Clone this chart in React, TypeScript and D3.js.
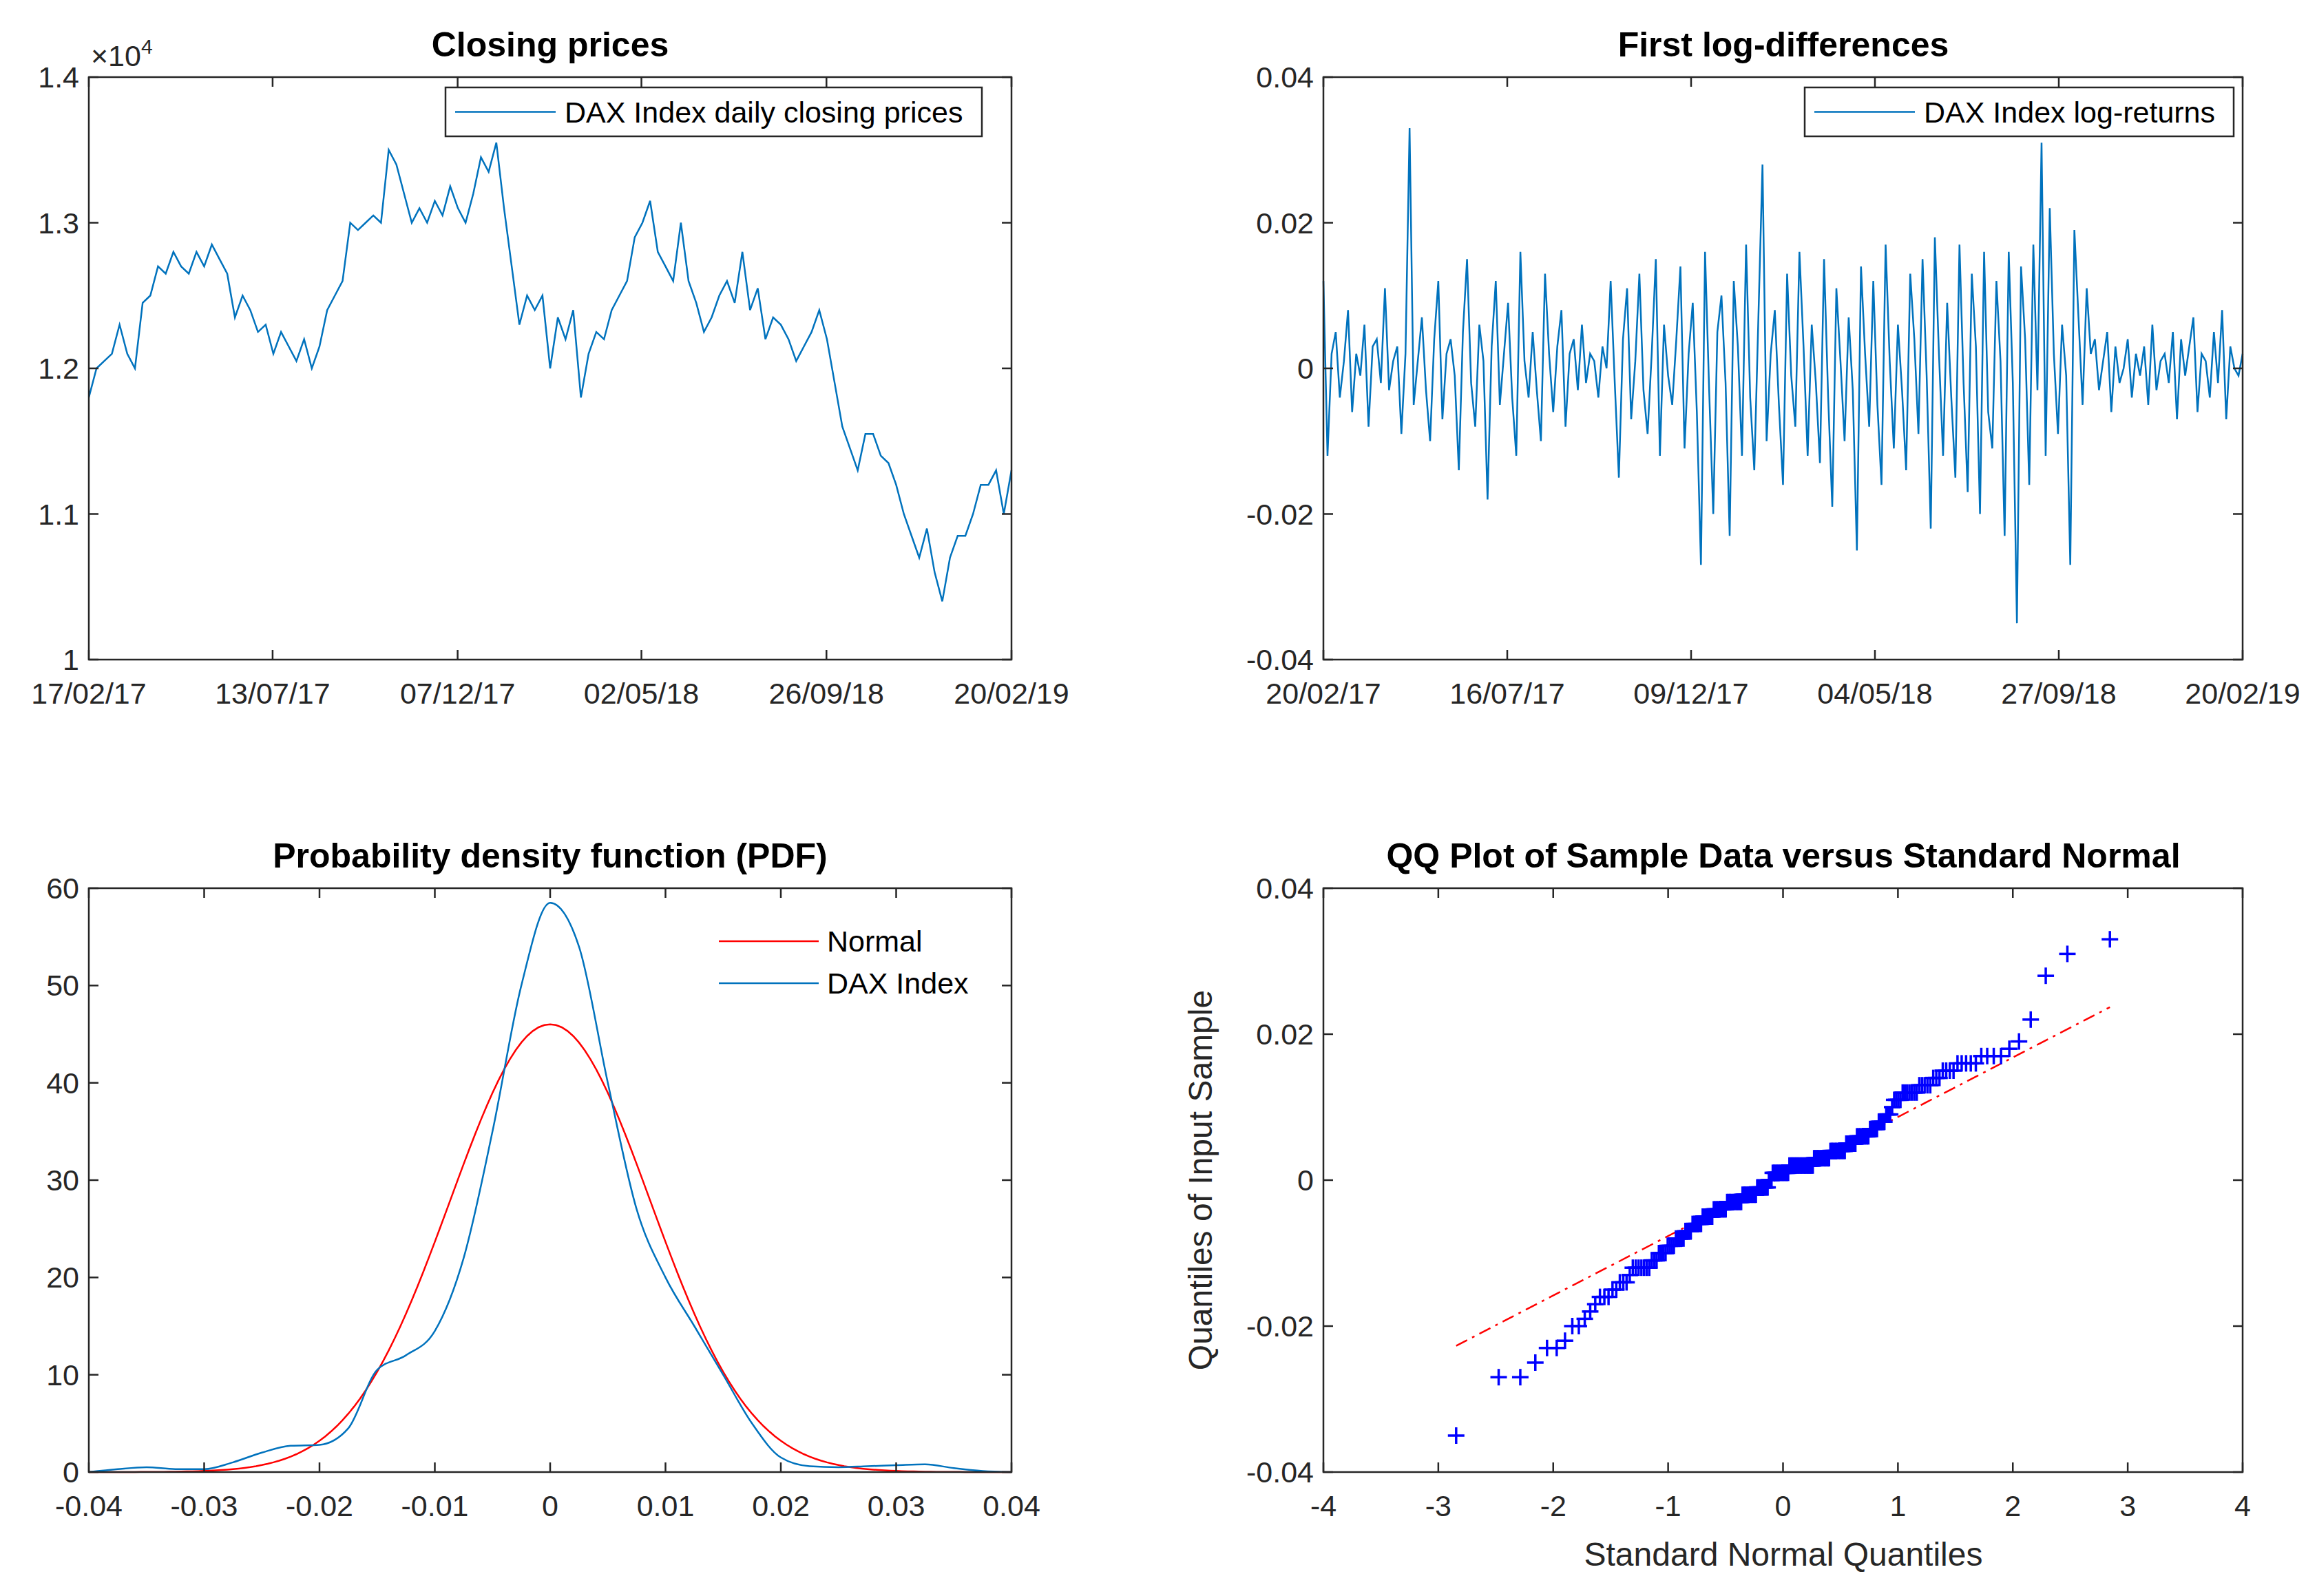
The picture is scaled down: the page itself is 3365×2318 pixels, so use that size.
import React, { useEffect, useRef } from 'react';
import * as d3 from 'd3';

// DAX closing prices (x10^4), evenly spaced samples 17/02/17 .. 20/02/19
const prices = [1.18, 1.20, 1.205, 1.21, 1.23, 1.21, 1.20, 1.245, 1.25, 1.27, 1.265, 1.28, 1.27, 1.265, 1.28, 1.27, 1.285, 1.275, 1.265, 1.235,
  1.25, 1.24, 1.225, 1.23, 1.21, 1.225, 1.215, 1.205, 1.22, 1.20, 1.215, 1.24, 1.25, 1.26, 1.30, 1.295, 1.30, 1.305, 1.30, 1.35,
  1.34, 1.32, 1.30, 1.31, 1.30, 1.315, 1.305, 1.325, 1.31, 1.30, 1.32, 1.345, 1.335, 1.355, 1.31, 1.27, 1.23, 1.25, 1.24, 1.25,
  1.20, 1.235, 1.22, 1.24, 1.18, 1.21, 1.225, 1.22, 1.24, 1.25, 1.26, 1.29, 1.30, 1.315, 1.28, 1.27, 1.26, 1.30, 1.26, 1.245,
  1.225, 1.235, 1.25, 1.26, 1.245, 1.28, 1.24, 1.255, 1.22, 1.235, 1.23, 1.22, 1.205, 1.215, 1.225, 1.24, 1.22, 1.19, 1.16, 1.145,
  1.13, 1.155, 1.155, 1.14, 1.135, 1.12, 1.10, 1.085, 1.07, 1.09, 1.06, 1.04, 1.07, 1.085, 1.085, 1.10, 1.12, 1.12, 1.13, 1.10, 1.13];
const priceStart = new Date(2017, 1, 17);
const priceEnd = new Date(2019, 1, 20);
const priceTicks = ['17/02/17', '13/07/17', '07/12/17', '02/05/18', '26/09/18', '20/02/19'];

// log-returns, evenly spaced 20/02/17 .. 20/02/19
const returns = [0.012, -0.012, 0.002, 0.005, -0.004, 0.001, 0.008, -0.006, 0.002, -0.001, 0.006, -0.008, 0.003, 0.004, -0.002, 0.011,
  -0.003, 0.001, 0.003, -0.009, 0.002, 0.033, -0.005, 0.001, 0.007, -0.003, -0.01, 0.004, 0.012, -0.007, 0.002, 0.004, -0.001, -0.014,
  0.005, 0.015, -0.002, -0.008, 0.006, 0.001, -0.018, 0.003, 0.012, -0.005, 0.002, 0.009, -0.004, -0.012, 0.016, 0.001, -0.004, 0.005,
  -0.003, -0.01, 0.013, 0.002, -0.006, 0.003, 0.008, -0.008, 0.002, 0.004, -0.003, 0.006, -0.002, 0.002, 0.001, -0.004, 0.003, 0.0,
  0.012, -0.002, -0.015, 0.004, 0.011, -0.007, 0.001, 0.013, -0.003, -0.009, 0.002, 0.015, -0.012, 0.006, -0.001, -0.005, 0.004,
  0.014, -0.011, 0.002, 0.009, -0.006, -0.027, 0.016, -0.003, -0.02, 0.005, 0.01, -0.002, -0.023, 0.012, 0.003, -0.012, 0.017, -0.004,
  -0.014, 0.007, 0.028, -0.01, 0.002, 0.008, -0.005, -0.016, 0.013, -0.001, -0.008, 0.016, 0.003, -0.012, 0.006, -0.002, -0.013,
  0.015, -0.004, -0.019, 0.011, 0.001, -0.01, 0.007, -0.003, -0.025, 0.014, 0.002, -0.008, 0.012, -0.005, -0.016, 0.017, 0.001,
  -0.011, 0.006, -0.003, -0.014, 0.013, 0.004, -0.009, 0.015, -0.001, -0.022, 0.018, 0.002, -0.012, 0.009, -0.004, -0.015, 0.017,
  -0.002, -0.017, 0.013, 0.003, -0.02, 0.016, -0.006, -0.011, 0.012, 0.001, -0.023, 0.016, -0.002, -0.035, 0.014, 0.004, -0.016,
  0.017, -0.003, 0.031, -0.012, 0.022, 0.002, -0.009, 0.006, -0.001, -0.027, 0.019, 0.007, -0.005, 0.011, 0.002, 0.004, -0.003,
  0.001, 0.005, -0.006, 0.003, -0.002, 0.0, 0.004, -0.004, 0.002, -0.001, 0.003, -0.005, 0.006, -0.003, 0.001, 0.002, -0.002, 0.005,
  -0.007, 0.004, -0.001, 0.003, 0.007, -0.006, 0.002, 0.001, -0.004, 0.005, -0.002, 0.008, -0.007, 0.003, 0.0, -0.001, 0.002];
const retStart = new Date(2017, 1, 20);
const retEnd = new Date(2019, 1, 20);
const retTicks = ['20/02/17', '16/07/17', '09/12/17', '04/05/18', '27/09/18', '20/02/19'];

// kernel density of DAX returns
const kdeX = d3.range(33).map(i => -0.04 + i * 0.0025);
const kdeY = [0, 0.3, 0.5, 0.3, 0.3, 1, 2, 2.7, 2.8, 4.5, 10.5, 12, 14.5, 22, 35, 50, 58.5, 54, 40, 27, 20, 15, 10, 5, 1.5, 0.6, 0.5,
  0.6, 0.7, 0.8, 0.4, 0.1, 0];
const normalMean = 0;
const normalSd = 0.00867;

const FONT = '"Liberation Sans", Arial, sans-serif';
const BLUE = '#0072BD';

const parse = d3.timeParse('%d/%m/%y');

function invNorm(p: number): number {
  const a = [-39.6968302866538, 220.946098424521, -275.928510446969, 138.357751867269, -30.6647980661472, 2.50662827745924];
  const b = [-54.4760987982241, 161.585836858041, -155.698979859887, 66.8013118877197, -13.2806815528857];
  const c = [-0.00778489400243029, -0.322396458041136, -2.40075827716184, -2.54973253934373, 4.37466414146497, 2.93816398269878];
  const d = [0.00778469570904146, 0.32246712907004, 2.445134137143, 3.75440866190742];
  const pl = 0.02425;
  if (p < pl) {
    const q = Math.sqrt(-2 * Math.log(p));
    return (((((c[0] * q + c[1]) * q + c[2]) * q + c[3]) * q + c[4]) * q + c[5]) / ((((d[0] * q + d[1]) * q + d[2]) * q + d[3]) * q + 1);
  }
  if (p > 1 - pl) return -invNorm(1 - p);
  const q = p - 0.5, r = q * q;
  return (((((a[0] * r + a[1]) * r + a[2]) * r + a[3]) * r + a[4]) * r + a[5]) * q / (((((b[0] * r + b[1]) * r + b[2]) * r + b[3]) * r + b[4]) * r + 1);
}

const App: React.FC = () => {
  const ref = useRef<SVGSVGElement>(null);

  useEffect(() => {
    document.body.style.margin = '0';
    const svg = d3.select(ref.current!);
    svg.selectAll('*').remove();
    svg.append('rect').attr('width', 3365).attr('height', 2318).attr('fill', '#fff');

    const frame = (x0: number, x1: number, y0: number, y1: number, xs: any, ys: any, xt: any[], yt: any[], xfmt: (v: any) => string, yfmt: (v: any) => string) => {
      const g = svg.append('g');
      g.append('rect').attr('x', x0).attr('y', y0).attr('width', x1 - x0).attr('height', y1 - y0)
        .attr('fill', 'none').attr('stroke', '#262626').attr('stroke-width', 2.5);
      const tl = 14;
      xt.forEach(t => {
        const x = xs(t);
        g.append('line').attr('x1', x).attr('x2', x).attr('y1', y1).attr('y2', y1 - tl).attr('stroke', '#262626').attr('stroke-width', 2.5);
        g.append('line').attr('x1', x).attr('x2', x).attr('y1', y0).attr('y2', y0 + tl).attr('stroke', '#262626').attr('stroke-width', 2.5);
        g.append('text').attr('x', x).attr('y', y1 + 64).attr('text-anchor', 'middle').attr('font-family', FONT)
          .attr('font-size', 43).attr('fill', '#262626').text(xfmt(t));
      });
      yt.forEach(t => {
        const y = ys(t);
        g.append('line').attr('x1', x0).attr('x2', x0 + tl).attr('y1', y).attr('y2', y).attr('stroke', '#262626').attr('stroke-width', 2.5);
        g.append('line').attr('x1', x1).attr('x2', x1 - tl).attr('y1', y).attr('y2', y).attr('stroke', '#262626').attr('stroke-width', 2.5);
        g.append('text').attr('x', x0 - 14).attr('y', y + 15).attr('text-anchor', 'end').attr('font-family', FONT)
          .attr('font-size', 43).attr('fill', '#262626').text(yfmt(t));
      });
      return g;
    };
    const title = (x: number, y: number, t: string) => svg.append('text').attr('x', x).attr('y', y).attr('text-anchor', 'middle')
      .attr('font-family', FONT).attr('font-weight', 'bold').attr('font-size', 50).attr('fill', '#000').text(t);
    const legendBox = (x0: number, x1: number, y0: number, y1: number, label: string) => {
      svg.append('rect').attr('x', x0).attr('y', y0).attr('width', x1 - x0).attr('height', y1 - y0)
        .attr('fill', '#fff').attr('stroke', '#262626').attr('stroke-width', 2.5);
      const ym = (y0 + y1) / 2;
      svg.append('line').attr('x1', x0 + 14).attr('x2', x0 + 160).attr('y1', ym).attr('y2', ym).attr('stroke', BLUE).attr('stroke-width', 2.5);
      svg.append('text').attr('x', x0 + 173).attr('y', ym + 15).attr('font-family', FONT).attr('font-size', 43).attr('fill', '#000').text(label);
    };
    const fmtNum = (v: number) => (Math.abs(v) < 1e-9 ? '0' : String(+v.toFixed(4)));

    // Panel 1: closing prices
    {
      const [x0, x1, y0, y1] = [129, 1469, 112, 958];
      const xs = d3.scaleTime().domain([priceStart, priceEnd]).range([x0, x1]);
      const ys = d3.scaleLinear().domain([1.0, 1.4]).range([y1, y0]);
      const tx = d3.scaleLinear().domain([0, prices.length - 1]).range([+priceStart, +priceEnd]);
      const line = d3.line<number>().x((_, i) => xs(new Date(tx(i)))).y(v => ys(v));
      svg.append('path').attr('d', line(prices)!).attr('fill', 'none').attr('stroke', BLUE).attr('stroke-width', 2.5);
      frame(x0, x1, y0, y1, xs, ys, priceTicks.map(t => parse(t)!), [1, 1.1, 1.2, 1.3, 1.4], (d: Date) => d3.timeFormat('%d/%m/%y')(d), fmtNum);
      svg.append('text').attr('x', 132).attr('y', 96).attr('font-family', FONT).attr('font-size', 43).attr('fill', '#262626')
        .html('×10<tspan dy="-18" font-size="30">4</tspan>');
      title(799, 82, 'Closing prices');
      legendBox(647, 1426, 127, 198, 'DAX Index daily closing prices');
    }

    // Panel 2: log-returns
    {
      const [x0, x1, y0, y1] = [1922, 3257, 112, 958];
      const xs = d3.scaleTime().domain([retStart, retEnd]).range([x0, x1]);
      const ys = d3.scaleLinear().domain([-0.04, 0.04]).range([y1, y0]);
      const tx = d3.scaleLinear().domain([0, returns.length - 1]).range([+retStart, +retEnd]);
      const line = d3.line<number>().x((_, i) => xs(new Date(tx(i)))).y(v => ys(v));
      svg.append('path').attr('d', line(returns)!).attr('fill', 'none').attr('stroke', BLUE).attr('stroke-width', 2.5);
      frame(x0, x1, y0, y1, xs, ys, retTicks.map(t => parse(t)!), [-0.04, -0.02, 0, 0.02, 0.04], (d: Date) => d3.timeFormat('%d/%m/%y')(d), fmtNum);
      title(2590, 82, 'First log-differences');
      legendBox(2621, 3244, 127, 198, 'DAX Index log-returns');
    }

    // Panel 3: PDF
    {
      const [x0, x1, y0, y1] = [129, 1469, 1290, 2138];
      const xs = d3.scaleLinear().domain([-0.04, 0.04]).range([x0, x1]);
      const ys = d3.scaleLinear().domain([0, 60]).range([y1, y0]);
      const nx = d3.range(-0.04, 0.04001, 0.0005);
      const npdf = (x: number) => Math.exp(-0.5 * ((x - normalMean) / normalSd) ** 2) / (normalSd * Math.sqrt(2 * Math.PI));
      svg.append('path').attr('d', d3.line<number>().x(v => xs(v)).y(v => ys(npdf(v)))(nx)!)
        .attr('fill', 'none').attr('stroke', '#FF0000').attr('stroke-width', 2.5);
      svg.append('path').attr('d', d3.line<number>().x(v => xs(v)).y((_, i) => ys(kdeY[i])).curve(d3.curveMonotoneX)(kdeX)!)
        .attr('fill', 'none').attr('stroke', BLUE).attr('stroke-width', 2.5);
      frame(x0, x1, y0, y1, xs, ys, d3.range(-0.04, 0.04001, 0.01), [0, 10, 20, 30, 40, 50, 60], fmtNum, fmtNum);
      title(799, 1260, 'Probability density function (PDF)');
      [['Normal', '#FF0000', 1367], ['DAX Index', BLUE, 1428]].forEach(([l, c, y]) => {
        svg.append('line').attr('x1', 1044).attr('x2', 1189).attr('y1', y).attr('y2', y).attr('stroke', c as string).attr('stroke-width', 2.5);
        svg.append('text').attr('x', 1201).attr('y', (y as number) + 15).attr('font-family', FONT).attr('font-size', 43).text(l as string);
      });
    }

    // Panel 4: QQ plot
    {
      const [x0, x1, y0, y1] = [1922, 3257, 1290, 2138];
      const xs = d3.scaleLinear().domain([-4, 4]).range([x0, x1]);
      const ys = d3.scaleLinear().domain([-0.04, 0.04]).range([y1, y0]);
      const sorted = [...returns].sort(d3.ascending);
      const n = sorted.length;
      const pts = sorted.map((v, i) => [invNorm((i + 0.5) / n), v]);
      const q1 = d3.quantile(sorted, 0.25)!, q3 = d3.quantile(sorted, 0.75)!;
      const z1 = invNorm(0.25), z3 = invNorm(0.75);
      const slope = (q3 - q1) / (z3 - z1);
      const icpt = q1 - slope * z1;
      const zmin = pts[0][0], zmax = pts[n - 1][0];
      svg.append('line').attr('x1', xs(zmin)).attr('x2', xs(zmax)).attr('y1', ys(icpt + slope * zmin)).attr('y2', ys(icpt + slope * zmax))
        .attr('stroke', '#FF0000').attr('stroke-width', 2.5).attr('stroke-dasharray', '18 8 4 8');
      const m = 12;
      const pg = svg.append('g').attr('stroke', '#0000FF').attr('stroke-width', 3.5);
      pts.forEach(([z, v]) => {
        const x = xs(z), y = ys(v);
        pg.append('line').attr('x1', x - m).attr('x2', x + m).attr('y1', y).attr('y2', y);
        pg.append('line').attr('x1', x).attr('x2', x).attr('y1', y - m).attr('y2', y + m);
      });
      frame(x0, x1, y0, y1, xs, ys, d3.range(-4, 4.01, 1), [-0.04, -0.02, 0, 0.02, 0.04], fmtNum, fmtNum);
      title(2590, 1260, 'QQ Plot of Sample Data versus Standard Normal');
      svg.append('text').attr('x', 2590).attr('y', 2274).attr('text-anchor', 'middle').attr('font-family', FONT).attr('font-size', 48)
        .attr('fill', '#262626').text('Standard Normal Quantiles');
      svg.append('text').attr('transform', `translate(1760,${(y0 + y1) / 2}) rotate(-90)`).attr('text-anchor', 'middle')
        .attr('font-family', FONT).attr('font-size', 48).attr('fill', '#262626').text('Quantiles of Input Sample');
    }
  }, []);

  return <svg ref={ref} width={3365} height={2318} style={{ display: 'block' }} />;
};

export default App;
